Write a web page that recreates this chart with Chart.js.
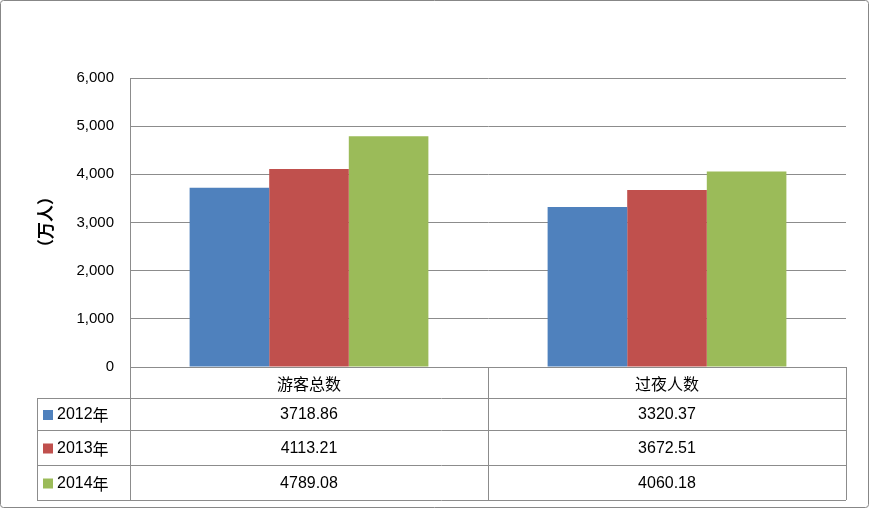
<!DOCTYPE html>
<html>
<head>
<meta charset="utf-8">
<script src="https://cdn.jsdelivr.net/npm/chart.js@4"></script>
<style>
  html, body { margin: 0; padding: 0; background: #fff; }
  #wrap { width: 870px; height: 509px; position: relative; }
</style>
</head>
<body>
<div id="wrap"><canvas id="c" width="870" height="509"></canvas></div>
<script>
const categories = ['游客总数', '过夜人数'];
const seriesNames = ['2012年', '2013年', '2014年'];
const seriesColors = ['#4F81BD', '#C0504D', '#9BBB59'];
const values2012 = [3718.86, 3320.37];
const values2013 = [4113.21, 3672.51];
const values2014 = [4789.08, 4060.18];
const seriesValues = [values2012, values2013, values2014];

const numFont = '"Liberation Sans", Arial, sans-serif';
const cjkFont = '"Noto Sans CJK SC", sans-serif';
const lineCol = '#8C8C8C';

// Draws the outer frame, axis title and the data table under the plot
const tablePlugin = {
  id: 'dataTable',
  afterDraw(chart) {
    const ctx = chart.ctx;
    const area = chart.chartArea;
    const x = chart.scales.x;
    const left = 37;
    const rows = [area.bottom, 398, 430, 465, 500];
    const colEdges = [area.left];
    categories.forEach((c, i) => colEdges.push(x.getPixelForValue(i) + (x.getPixelForValue(1) - x.getPixelForValue(0)) / 2));

    ctx.save();
    ctx.strokeStyle = lineCol;
    ctx.lineWidth = 1;
    ctx.beginPath();
    // horizontal lines
    for (let r = 1; r < rows.length; r++) {
      ctx.moveTo(left, rows[r] + 0.5); ctx.lineTo(area.right, rows[r] + 0.5);
    }
    ctx.moveTo(area.left, rows[0] + 0.5); ctx.lineTo(area.right, rows[0] + 0.5);
    // vertical lines
    colEdges.forEach(cx => { ctx.moveTo(Math.round(cx) + 0.5, rows[0]); ctx.lineTo(Math.round(cx) + 0.5, rows[4]); });
    ctx.moveTo(left + 0.5, rows[1]); ctx.lineTo(left + 0.5, rows[4]);
    ctx.stroke();

    ctx.fillStyle = '#000';
    ctx.textBaseline = 'middle';
    // header row
    ctx.font = '16px ' + cjkFont;
    ctx.textAlign = 'center';
    categories.forEach((c, i) => {
      ctx.fillText(c, (colEdges[i] + colEdges[i + 1]) / 2, (rows[0] + rows[1]) / 2 + 1);
    });
    // series rows
    seriesNames.forEach((name, s) => {
      const cy = (rows[s + 1] + rows[s + 2]) / 2 + 1;
      ctx.fillStyle = seriesColors[s];
      ctx.fillRect(43, cy - 5, 10, 10);
      ctx.fillStyle = '#000';
      ctx.textAlign = 'left';
      ctx.font = '16px ' + numFont;
      ctx.fillText(name.slice(0, 4), 57, cy);
      const w = ctx.measureText(name.slice(0, 4)).width;
      ctx.font = '16px ' + cjkFont;
      ctx.fillText(name.slice(4), 57 + w, cy);
      ctx.font = '16px ' + numFont;
      ctx.textAlign = 'center';
      seriesValues[s].forEach((v, i) => {
        ctx.fillText(v.toFixed(2), (colEdges[i] + colEdges[i + 1]) / 2, cy);
      });
    });

    // axis title
    ctx.save();
    ctx.translate(46, 222);
    ctx.rotate(-Math.PI / 2);
    ctx.textAlign = 'center';
    ctx.font = 'bold 17px ' + cjkFont;
    ctx.fillText('（万人）', 0, 0);
    ctx.restore();

    // outer frame
    ctx.strokeStyle = '#878787';
    ctx.beginPath();
    ctx.roundRect(0.5, 0.5, 868, 507, 3);
    ctx.stroke();
    ctx.restore();
  }
};

new Chart(document.getElementById('c'), {
  type: 'bar',
  data: {
    labels: categories,
    datasets: seriesNames.map((n, s) => ({
      label: n,
      data: seriesValues[s],
      backgroundColor: seriesColors[s],
      borderWidth: 0,
      categoryPercentage: 0.667,
      barPercentage: 1
    }))
  },
  options: {
    responsive: false,
    animation: false,
    layout: { padding: { top: 78, bottom: 142, right: 24, left: 0 } },
    plugins: { legend: { display: false }, tooltip: { enabled: false } },
    scales: {
      x: { display: false },
      y: {
        min: 0, max: 6000,
        ticks: { stepSize: 1000, color: '#000', font: { size: 15, family: numFont }, padding: 16 },
        grid: { color: lineCol, drawTicks: false },
        border: { color: lineCol },
        afterFit(scale) { scale.width = 130; }
      }
    }
  },
  plugins: [tablePlugin]
});
</script>
</body>
</html>
